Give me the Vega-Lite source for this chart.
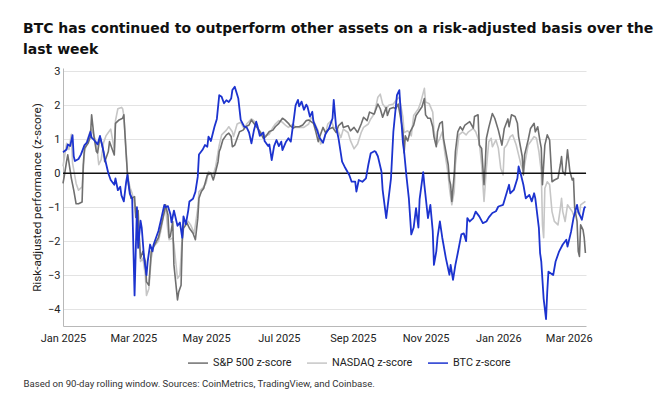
{
  "$schema": "https://vega.github.io/schema/vega-lite/v6.json",
  "width": 523,
  "height": 258,
  "autosize": {"type": "none"},
  "padding": {"left": 63, "top": 68, "right": 84, "bottom": 73},
  "background": "white",
  "title": {
    "text": ["BTC has continued to outperform other assets on a risk-adjusted basis over the", "last week"],
    "anchor": "start", "frame": "group", "dx": -40, "offset": 8,
    "font": "DejaVu Sans", "fontSize": 14, "fontWeight": "bold", "color": "#111111", "lineHeight": 21
  },
  "config": {
    "view": {"stroke": null},
    "font": "Roboto",
    "axisX": {
      "format": "%b %Y", "tickCount": {"interval": "month", "step": 2},
      "labelFlush": false, "labelOverlap": false, "ticks": false, "grid": false,
      "domainColor": "#b8b8b8", "domainWidth": 1, "labelPadding": 6, "labelFontSize": 11, "labelColor": "#222222",
      "titleAnchor": "start", "titleAlign": "left", "titleX": -40, "titleY": 60, "titleBaseline": "alphabetic",
      "titleFontSize": 9.6, "titleFontWeight": "normal", "titleColor": "#333333"
    },
    "axisY": {
      "values": [-4, -3, -2, -1, 0, 1, 2, 3],
      "ticks": false, "grid": true, "gridColor": "#e3e3e3", "gridWidth": 1,
      "domainColor": "#b8b8b8", "domainWidth": 1, "labelPadding": 3, "labelFontSize": 11, "labelColor": "#222222",
      "titleFontSize": 11.7, "titleFontWeight": "normal", "titleColor": "#222222", "titlePadding": 5
    },
    "legend": {
      "orient": "none", "legendX": 124, "legendY": 284, "direction": "horizontal",
      "symbolType": "stroke", "symbolSize": 400, "symbolStrokeWidth": 1.5,
      "labelFontSize": 10.8, "labelColor": "#222222", "columnPadding": 12, "labelOffset": 4
    }
  },
  "encoding": {
    "x": {
      "field": "d", "type": "temporal",
      "scale": {"domain": [{"year": 2025, "month": 1, "date": 1}, {"year": 2026, "month": 3, "date": 15, "hours": 12}]},
      "axis": {"title": "Based on 90-day rolling window. Sources: CoinMetrics, TradingView, and Coinbase."}
    },
    "y": {
      "field": "v", "type": "quantitative",
      "scale": {"domain": [-4.5, 3.1], "nice": false, "zero": false},
      "axis": {"title": "Risk-adjusted performance (z-score)"}
    }
  },
  "datasets": {
    "btc": [
      {"d":"2025-01-01","v":0.62},{"d":"2025-01-04","v":0.70},{"d":"2025-01-05","v":0.85},{"d":"2025-01-07","v":0.80},{"d":"2025-01-09","v":1.12},{"d":"2025-01-10","v":0.50},{"d":"2025-01-11","v":0.36},{"d":"2025-01-14","v":0.42},{"d":"2025-01-16","v":0.55},{"d":"2025-01-19","v":0.83},{"d":"2025-01-21","v":0.90},{"d":"2025-01-24","v":1.22},{"d":"2025-01-25","v":1.05},{"d":"2025-01-27","v":0.98},{"d":"2025-01-30","v":0.85},
      {"d":"2025-02-01","v":1.10},{"d":"2025-02-03","v":0.80},{"d":"2025-02-05","v":0.45},{"d":"2025-02-08","v":0.00},{"d":"2025-02-10","v":-0.20},{"d":"2025-02-13","v":-0.34},{"d":"2025-02-14","v":-0.15},{"d":"2025-02-16","v":-0.50},{"d":"2025-02-18","v":-0.40},{"d":"2025-02-19","v":-0.65},{"d":"2025-02-21","v":-0.83},{"d":"2025-02-23","v":-0.25},{"d":"2025-02-24","v":-0.05},{"d":"2025-02-26","v":-0.60},{"d":"2025-02-28","v":-0.75},
      {"d":"2025-03-02","v":-3.60},{"d":"2025-03-04","v":-1.00},{"d":"2025-03-05","v":-2.20},{"d":"2025-03-07","v":-1.40},{"d":"2025-03-08","v":-1.60},{"d":"2025-03-10","v":-2.50},{"d":"2025-03-12","v":-3.00},{"d":"2025-03-13","v":-2.60},{"d":"2025-03-15","v":-2.10},{"d":"2025-03-17","v":-2.30},{"d":"2025-03-18","v":-2.10},{"d":"2025-03-20","v":-1.90},{"d":"2025-03-22","v":-1.70},{"d":"2025-03-24","v":-1.40},{"d":"2025-03-27","v":-0.93},{"d":"2025-03-28","v":-1.00},{"d":"2025-03-30","v":-0.97},
      {"d":"2025-04-01","v":-1.20},{"d":"2025-04-02","v":-1.45},{"d":"2025-04-04","v":-1.10},{"d":"2025-04-06","v":-1.40},{"d":"2025-04-07","v":-1.55},{"d":"2025-04-09","v":-1.45},{"d":"2025-04-11","v":-1.90},{"d":"2025-04-12","v":-1.27},{"d":"2025-04-14","v":-1.50},{"d":"2025-04-16","v":-1.10},{"d":"2025-04-17","v":-0.83},{"d":"2025-04-20","v":-0.75},{"d":"2025-04-22","v":-0.55},{"d":"2025-04-24","v":-0.10},{"d":"2025-04-25","v":0.55},{"d":"2025-04-28","v":0.69},{"d":"2025-04-30","v":0.83},
      {"d":"2025-05-02","v":0.78},{"d":"2025-05-03","v":1.08},{"d":"2025-05-05","v":0.95},{"d":"2025-05-08","v":1.37},{"d":"2025-05-10","v":1.60},{"d":"2025-05-12","v":2.30},{"d":"2025-05-14","v":2.25},{"d":"2025-05-16","v":2.06},{"d":"2025-05-18","v":2.15},{"d":"2025-05-20","v":2.10},{"d":"2025-05-22","v":2.20},{"d":"2025-05-23","v":2.45},{"d":"2025-05-25","v":2.55},{"d":"2025-05-28","v":2.20},{"d":"2025-05-30","v":1.57},
      {"d":"2025-06-02","v":1.37},{"d":"2025-06-04","v":1.35},{"d":"2025-06-06","v":1.20},{"d":"2025-06-08","v":0.88},{"d":"2025-06-10","v":1.25},{"d":"2025-06-12","v":1.52},{"d":"2025-06-13","v":1.40},{"d":"2025-06-15","v":1.10},{"d":"2025-06-18","v":1.20},{"d":"2025-06-19","v":0.95},{"d":"2025-06-22","v":0.80},{"d":"2025-06-23","v":0.85},{"d":"2025-06-25","v":0.39},{"d":"2025-06-27","v":0.80},{"d":"2025-06-29","v":0.98},
      {"d":"2025-07-01","v":0.80},{"d":"2025-07-03","v":0.93},{"d":"2025-07-04","v":0.68},{"d":"2025-07-07","v":0.93},{"d":"2025-07-09","v":1.03},{"d":"2025-07-11","v":0.93},{"d":"2025-07-14","v":1.72},{"d":"2025-07-15","v":2.00},{"d":"2025-07-17","v":2.16},{"d":"2025-07-18","v":1.97},{"d":"2025-07-20","v":2.11},{"d":"2025-07-22","v":1.87},{"d":"2025-07-24","v":2.02},{"d":"2025-07-25","v":1.96},{"d":"2025-07-27","v":1.67},{"d":"2025-07-29","v":1.81},{"d":"2025-07-30","v":1.52},
      {"d":"2025-08-02","v":1.27},{"d":"2025-08-04","v":1.05},{"d":"2025-08-07","v":0.90},{"d":"2025-08-09","v":1.15},{"d":"2025-08-12","v":1.32},{"d":"2025-08-15","v":1.62},{"d":"2025-08-16","v":2.16},{"d":"2025-08-18","v":1.35},{"d":"2025-08-20","v":1.03},{"d":"2025-08-23","v":0.34},{"d":"2025-08-25","v":0.20},{"d":"2025-08-29","v":-0.05},{"d":"2025-08-31","v":-0.25},
      {"d":"2025-09-03","v":-0.25},{"d":"2025-09-04","v":-0.54},{"d":"2025-09-06","v":-0.20},{"d":"2025-09-09","v":-0.25},{"d":"2025-09-12","v":-0.15},{"d":"2025-09-14","v":0.25},{"d":"2025-09-16","v":0.59},{"d":"2025-09-19","v":0.65},{"d":"2025-09-20","v":0.64},{"d":"2025-09-22","v":0.50},{"d":"2025-09-25","v":0.05},{"d":"2025-09-26","v":-0.49},{"d":"2025-09-29","v":-1.32},
      {"d":"2025-10-01","v":-0.74},{"d":"2025-10-03","v":-0.15},{"d":"2025-10-05","v":1.23},{"d":"2025-10-08","v":2.30},{"d":"2025-10-10","v":2.45},{"d":"2025-10-11","v":1.90},{"d":"2025-10-13","v":0.90},{"d":"2025-10-14","v":0.64},{"d":"2025-10-16","v":-0.10},{"d":"2025-10-18","v":-0.75},{"d":"2025-10-20","v":-1.80},{"d":"2025-10-22","v":-1.60},{"d":"2025-10-24","v":-1.03},{"d":"2025-10-26","v":-1.60},{"d":"2025-10-27","v":-0.76},{"d":"2025-10-30","v":0.03},{"d":"2025-10-31","v":-0.35},
      {"d":"2025-11-03","v":-1.32},{"d":"2025-11-05","v":-0.93},{"d":"2025-11-07","v":-1.70},{"d":"2025-11-08","v":-2.70},{"d":"2025-11-10","v":-2.30},{"d":"2025-11-11","v":-1.90},{"d":"2025-11-13","v":-1.42},{"d":"2025-11-15","v":-1.90},{"d":"2025-11-18","v":-2.50},{"d":"2025-11-21","v":-2.99},{"d":"2025-11-22","v":-2.70},{"d":"2025-11-24","v":-3.14},{"d":"2025-11-26","v":-2.70},{"d":"2025-11-28","v":-2.35},
      {"d":"2025-12-01","v":-1.80},{"d":"2025-12-03","v":-1.77},{"d":"2025-12-05","v":-2.00},{"d":"2025-12-06","v":-1.32},{"d":"2025-12-08","v":-1.42},{"d":"2025-12-11","v":-1.32},{"d":"2025-12-13","v":-1.13},{"d":"2025-12-16","v":-1.27},{"d":"2025-12-19","v":-1.47},{"d":"2025-12-22","v":-1.42},{"d":"2025-12-24","v":-1.30},{"d":"2025-12-27","v":-1.17},{"d":"2025-12-30","v":-1.12},
      {"d":"2026-01-01","v":-0.98},{"d":"2026-01-05","v":-0.93},{"d":"2026-01-07","v":-0.69},{"d":"2026-01-10","v":-0.34},{"d":"2026-01-11","v":-0.59},{"d":"2026-01-14","v":-0.49},{"d":"2026-01-17","v":-0.15},{"d":"2026-01-18","v":0.20},{"d":"2026-01-20","v":-0.05},{"d":"2026-01-22","v":-0.34},{"d":"2026-01-24","v":-0.74},{"d":"2026-01-27","v":-0.64},{"d":"2026-01-29","v":-0.83},{"d":"2026-01-31","v":-0.59},
      {"d":"2026-02-01","v":-0.74},{"d":"2026-02-04","v":-1.62},{"d":"2026-02-05","v":-2.35},{"d":"2026-02-06","v":-2.60},{"d":"2026-02-08","v":-3.70},{"d":"2026-02-10","v":-4.30},{"d":"2026-02-11","v":-3.50},{"d":"2026-02-12","v":-2.90},{"d":"2026-02-16","v":-3.00},{"d":"2026-02-18","v":-2.60},{"d":"2026-02-21","v":-2.30},{"d":"2026-02-24","v":-2.10},{"d":"2026-02-27","v":-1.96},{"d":"2026-02-28","v":-2.16},
      {"d":"2026-03-03","v":-1.72},{"d":"2026-03-05","v":-1.32},{"d":"2026-03-08","v":-0.93},{"d":"2026-03-09","v":-1.13},{"d":"2026-03-12","v":-1.37},{"d":"2026-03-14","v":-1.03},{"d":"2026-03-15","v":-0.98}
    ],
    "spx": [
      {"d":"2025-01-01","v":-0.30},{"d":"2025-01-02","v":-0.10},{"d":"2025-01-04","v":0.35},{"d":"2025-01-05","v":0.54},{"d":"2025-01-08","v":-0.15},{"d":"2025-01-10","v":-0.50},{"d":"2025-01-12","v":-0.90},{"d":"2025-01-14","v":-0.90},{"d":"2025-01-17","v":-0.85},{"d":"2025-01-18","v":0.25},{"d":"2025-01-19","v":0.73},{"d":"2025-01-22","v":0.88},{"d":"2025-01-24","v":1.08},{"d":"2025-01-25","v":1.72},{"d":"2025-01-27","v":1.08},{"d":"2025-01-29","v":0.64},{"d":"2025-01-30","v":0.60},
      {"d":"2025-02-01","v":1.08},{"d":"2025-02-04","v":0.64},{"d":"2025-02-05","v":0.34},{"d":"2025-02-08","v":0.64},{"d":"2025-02-09","v":0.93},{"d":"2025-02-10","v":0.83},{"d":"2025-02-13","v":0.54},{"d":"2025-02-14","v":1.47},{"d":"2025-02-17","v":1.57},{"d":"2025-02-20","v":1.62},{"d":"2025-02-21","v":1.72},{"d":"2025-02-23","v":0.54},{"d":"2025-02-24","v":0.00},{"d":"2025-02-25","v":-0.34},{"d":"2025-02-27","v":-0.74},
      {"d":"2025-03-02","v":-0.69},{"d":"2025-03-03","v":-1.30},{"d":"2025-03-05","v":-1.10},{"d":"2025-03-06","v":-1.90},{"d":"2025-03-07","v":-2.50},{"d":"2025-03-09","v":-2.30},{"d":"2025-03-11","v":-2.60},{"d":"2025-03-12","v":-3.20},{"d":"2025-03-14","v":-3.30},{"d":"2025-03-16","v":-2.30},{"d":"2025-03-18","v":-2.16},{"d":"2025-03-22","v":-1.90},{"d":"2025-03-24","v":-1.60},{"d":"2025-03-27","v":-1.13},{"d":"2025-03-28","v":-0.93},{"d":"2025-03-30","v":-1.23},{"d":"2025-03-31","v":-1.90},
      {"d":"2025-04-01","v":-1.86},{"d":"2025-04-03","v":-1.42},{"d":"2025-04-04","v":-2.70},{"d":"2025-04-07","v":-3.73},{"d":"2025-04-08","v":-3.50},{"d":"2025-04-10","v":-3.30},{"d":"2025-04-11","v":-2.00},{"d":"2025-04-12","v":-1.62},{"d":"2025-04-15","v":-1.47},{"d":"2025-04-17","v":-1.62},{"d":"2025-04-20","v":-1.77},{"d":"2025-04-22","v":-1.96},{"d":"2025-04-24","v":-1.33},{"d":"2025-04-25","v":-0.74},{"d":"2025-04-27","v":-0.54},{"d":"2025-04-29","v":-0.44},
      {"d":"2025-05-02","v":-0.05},{"d":"2025-05-05","v":0.00},{"d":"2025-05-07","v":-0.20},{"d":"2025-05-09","v":0.05},{"d":"2025-05-11","v":0.34},{"d":"2025-05-12","v":0.64},{"d":"2025-05-13","v":0.73},{"d":"2025-05-15","v":0.98},{"d":"2025-05-18","v":1.13},{"d":"2025-05-20","v":1.18},{"d":"2025-05-22","v":1.08},{"d":"2025-05-23","v":0.78},{"d":"2025-05-25","v":0.83},{"d":"2025-05-29","v":1.22},
      {"d":"2025-06-01","v":1.27},{"d":"2025-06-03","v":1.37},{"d":"2025-06-06","v":1.42},{"d":"2025-06-08","v":1.57},{"d":"2025-06-10","v":1.47},{"d":"2025-06-13","v":1.33},{"d":"2025-06-15","v":1.23},{"d":"2025-06-18","v":1.03},{"d":"2025-06-20","v":1.08},{"d":"2025-06-23","v":1.23},{"d":"2025-06-26","v":1.27},{"d":"2025-06-28","v":1.37},
      {"d":"2025-07-01","v":1.47},{"d":"2025-07-04","v":1.62},{"d":"2025-07-06","v":1.57},{"d":"2025-07-09","v":1.47},{"d":"2025-07-10","v":1.42},{"d":"2025-07-13","v":1.33},{"d":"2025-07-15","v":1.37},{"d":"2025-07-18","v":1.37},{"d":"2025-07-21","v":1.42},{"d":"2025-07-24","v":1.55},{"d":"2025-07-26","v":1.57},{"d":"2025-07-30","v":1.47},
      {"d":"2025-08-01","v":1.22},{"d":"2025-08-03","v":0.93},{"d":"2025-08-04","v":1.05},{"d":"2025-08-07","v":1.35},{"d":"2025-08-09","v":1.20},{"d":"2025-08-12","v":1.30},{"d":"2025-08-15","v":1.35},{"d":"2025-08-18","v":1.20},{"d":"2025-08-20","v":1.40},{"d":"2025-08-23","v":1.50},{"d":"2025-08-24","v":1.35},{"d":"2025-08-28","v":1.40},{"d":"2025-08-30","v":1.25},
      {"d":"2025-09-02","v":1.35},{"d":"2025-09-05","v":1.20},{"d":"2025-09-08","v":1.45},{"d":"2025-09-10","v":1.65},{"d":"2025-09-13","v":1.55},{"d":"2025-09-15","v":1.80},{"d":"2025-09-18","v":1.75},{"d":"2025-09-19","v":1.75},{"d":"2025-09-22","v":2.04},{"d":"2025-09-24","v":1.90},{"d":"2025-09-26","v":1.65},{"d":"2025-09-29","v":1.94},{"d":"2025-09-30","v":1.70},
      {"d":"2025-10-02","v":1.90},{"d":"2025-10-05","v":1.94},{"d":"2025-10-07","v":1.90},{"d":"2025-10-09","v":2.04},{"d":"2025-10-10","v":1.84},{"d":"2025-10-13","v":1.25},{"d":"2025-10-14","v":0.60},{"d":"2025-10-15","v":1.10},{"d":"2025-10-17","v":0.95},{"d":"2025-10-19","v":1.22},{"d":"2025-10-22","v":1.42},{"d":"2025-10-24","v":1.70},{"d":"2025-10-26","v":1.80},{"d":"2025-10-29","v":1.96},{"d":"2025-10-31","v":2.20},
      {"d":"2025-11-01","v":1.72},{"d":"2025-11-03","v":1.62},{"d":"2025-11-05","v":1.62},{"d":"2025-11-07","v":1.37},{"d":"2025-11-08","v":1.08},{"d":"2025-11-10","v":0.78},{"d":"2025-11-11","v":1.22},{"d":"2025-11-13","v":1.47},{"d":"2025-11-15","v":1.52},{"d":"2025-11-16","v":1.03},{"d":"2025-11-18","v":0.64},{"d":"2025-11-20","v":0.25},{"d":"2025-11-21","v":-0.20},{"d":"2025-11-22","v":-0.34},{"d":"2025-11-23","v":-0.83},{"d":"2025-11-25","v":-0.05},{"d":"2025-11-26","v":0.64},{"d":"2025-11-28","v":1.22},{"d":"2025-11-30","v":1.37},
      {"d":"2025-12-02","v":1.27},{"d":"2025-12-04","v":1.42},{"d":"2025-12-06","v":1.47},{"d":"2025-12-08","v":1.52},{"d":"2025-12-11","v":1.33},{"d":"2025-12-12","v":1.67},{"d":"2025-12-15","v":1.72},{"d":"2025-12-16","v":0.83},{"d":"2025-12-18","v":0.73},{"d":"2025-12-20","v":-0.34},{"d":"2025-12-21","v":0.25},{"d":"2025-12-22","v":1.03},{"d":"2025-12-24","v":1.35},{"d":"2025-12-27","v":1.76},{"d":"2025-12-29","v":1.62},
      {"d":"2026-01-01","v":1.27},{"d":"2026-01-04","v":0.83},{"d":"2026-01-06","v":1.32},{"d":"2026-01-09","v":1.60},{"d":"2026-01-10","v":1.37},{"d":"2026-01-12","v":1.72},{"d":"2026-01-15","v":1.67},{"d":"2026-01-17","v":1.47},{"d":"2026-01-18","v":1.08},{"d":"2026-01-21","v":0.50},{"d":"2026-01-22","v":-0.05},{"d":"2026-01-23","v":0.54},{"d":"2026-01-26","v":0.98},{"d":"2026-01-28","v":1.32},{"d":"2026-01-31","v":1.47},
      {"d":"2026-02-01","v":1.22},{"d":"2026-02-03","v":1.37},{"d":"2026-02-05","v":0.93},{"d":"2026-02-06","v":0.74},{"d":"2026-02-07","v":-0.34},{"d":"2026-02-09","v":0.83},{"d":"2026-02-11","v":1.13},{"d":"2026-02-13","v":0.98},{"d":"2026-02-15","v":-0.25},{"d":"2026-02-17","v":-0.20},{"d":"2026-02-20","v":-0.15},{"d":"2026-02-22","v":0.25},{"d":"2026-02-23","v":0.49},{"d":"2026-02-24","v":0.05},{"d":"2026-02-26","v":-0.05},{"d":"2026-02-28","v":0.69},
      {"d":"2026-03-02","v":0.05},{"d":"2026-03-04","v":-0.20},{"d":"2026-03-05","v":-0.15},{"d":"2026-03-06","v":-1.03},{"d":"2026-03-08","v":-1.42},{"d":"2026-03-09","v":-2.30},{"d":"2026-03-10","v":-2.45},{"d":"2026-03-11","v":-1.52},{"d":"2026-03-13","v":-1.67},{"d":"2026-03-14","v":-1.90},{"d":"2026-03-15","v":-2.35}
    ],
    "ndx": [
      {"d":"2025-01-01","v":0.20},{"d":"2025-01-04","v":0.88},{"d":"2025-01-06","v":0.70},{"d":"2025-01-08","v":1.15},{"d":"2025-01-09","v":0.30},{"d":"2025-01-12","v":-0.30},{"d":"2025-01-14","v":-0.50},{"d":"2025-01-17","v":-0.40},{"d":"2025-01-19","v":0.60},{"d":"2025-01-21","v":0.95},{"d":"2025-01-24","v":1.25},{"d":"2025-01-25","v":1.30},{"d":"2025-01-27","v":1.10},{"d":"2025-01-29","v":0.90},{"d":"2025-01-31","v":0.25},
      {"d":"2025-02-02","v":0.40},{"d":"2025-02-04","v":0.90},{"d":"2025-02-06","v":1.10},{"d":"2025-02-08","v":1.20},{"d":"2025-02-10","v":1.30},{"d":"2025-02-13","v":0.70},{"d":"2025-02-14","v":1.55},{"d":"2025-02-16","v":1.90},{"d":"2025-02-19","v":1.94},{"d":"2025-02-20","v":1.90},{"d":"2025-02-21","v":1.70},{"d":"2025-02-23","v":0.60},{"d":"2025-02-24","v":0.00},{"d":"2025-02-26","v":-0.40},{"d":"2025-02-28","v":-0.60},
      {"d":"2025-03-02","v":-0.90},{"d":"2025-03-03","v":-1.20},{"d":"2025-03-05","v":-1.40},{"d":"2025-03-06","v":-2.10},{"d":"2025-03-07","v":-2.60},{"d":"2025-03-09","v":-2.50},{"d":"2025-03-11","v":-3.00},{"d":"2025-03-12","v":-3.60},{"d":"2025-03-14","v":-3.40},{"d":"2025-03-16","v":-2.50},{"d":"2025-03-18","v":-2.16},{"d":"2025-03-22","v":-2.00},{"d":"2025-03-24","v":-1.70},{"d":"2025-03-27","v":-1.13},{"d":"2025-03-28","v":-0.98},{"d":"2025-03-30","v":-1.72},{"d":"2025-03-31","v":-1.96},
      {"d":"2025-04-03","v":-1.91},{"d":"2025-04-04","v":-2.10},{"d":"2025-04-07","v":-3.10},{"d":"2025-04-09","v":-3.00},{"d":"2025-04-11","v":-1.82},{"d":"2025-04-12","v":-1.52},{"d":"2025-04-16","v":-1.42},{"d":"2025-04-18","v":-1.52},{"d":"2025-04-21","v":-1.77},{"d":"2025-04-24","v":-1.03},{"d":"2025-04-25","v":-0.54},{"d":"2025-04-28","v":-0.44},
      {"d":"2025-05-01","v":-0.29},{"d":"2025-05-03","v":0.05},{"d":"2025-05-07","v":-0.05},{"d":"2025-05-09","v":0.20},{"d":"2025-05-12","v":0.83},{"d":"2025-05-14","v":1.13},{"d":"2025-05-18","v":1.27},{"d":"2025-05-20","v":1.37},{"d":"2025-05-23","v":1.22},{"d":"2025-05-24","v":1.08},{"d":"2025-05-27","v":1.45},{"d":"2025-05-30","v":1.50},
      {"d":"2025-06-02","v":1.30},{"d":"2025-06-04","v":1.45},{"d":"2025-06-08","v":1.60},{"d":"2025-06-10","v":1.55},{"d":"2025-06-13","v":1.35},{"d":"2025-06-16","v":1.20},{"d":"2025-06-20","v":1.10},{"d":"2025-06-23","v":1.15},{"d":"2025-06-26","v":1.35},{"d":"2025-06-28","v":1.45},
      {"d":"2025-07-01","v":1.55},{"d":"2025-07-04","v":1.50},{"d":"2025-07-07","v":1.40},{"d":"2025-07-09","v":1.35},{"d":"2025-07-13","v":1.45},{"d":"2025-07-15","v":1.35},{"d":"2025-07-18","v":1.35},{"d":"2025-07-22","v":1.35},{"d":"2025-07-26","v":1.45},{"d":"2025-07-28","v":1.65},{"d":"2025-07-30","v":1.55},
      {"d":"2025-08-03","v":1.25},{"d":"2025-08-05","v":0.86},{"d":"2025-08-08","v":1.00},{"d":"2025-08-11","v":1.45},{"d":"2025-08-14","v":1.55},{"d":"2025-08-16","v":1.35},{"d":"2025-08-19","v":1.30},{"d":"2025-08-22","v":1.05},{"d":"2025-08-24","v":1.30},{"d":"2025-08-28","v":1.20},{"d":"2025-08-30","v":0.96},
      {"d":"2025-09-02","v":0.72},{"d":"2025-09-05","v":0.86},{"d":"2025-09-08","v":1.20},{"d":"2025-09-10","v":1.35},{"d":"2025-09-14","v":1.45},{"d":"2025-09-16","v":1.60},{"d":"2025-09-19","v":1.75},{"d":"2025-09-22","v":2.24},{"d":"2025-09-24","v":2.33},{"d":"2025-09-26","v":2.04},{"d":"2025-09-29","v":1.90},
      {"d":"2025-10-01","v":2.00},{"d":"2025-10-05","v":2.04},{"d":"2025-10-07","v":2.14},{"d":"2025-10-10","v":2.24},{"d":"2025-10-13","v":1.65},{"d":"2025-10-14","v":1.20},{"d":"2025-10-17","v":1.25},{"d":"2025-10-20","v":1.10},{"d":"2025-10-22","v":1.70},{"d":"2025-10-26","v":1.90},{"d":"2025-10-28","v":2.10},{"d":"2025-10-31","v":2.50},
      {"d":"2025-11-01","v":2.10},{"d":"2025-11-04","v":2.05},{"d":"2025-11-07","v":1.80},{"d":"2025-11-08","v":1.27},{"d":"2025-11-10","v":0.83},{"d":"2025-11-13","v":1.03},{"d":"2025-11-15","v":1.22},{"d":"2025-11-17","v":0.64},{"d":"2025-11-20","v":-0.05},{"d":"2025-11-21","v":-0.44},{"d":"2025-11-23","v":-0.93},{"d":"2025-11-25","v":-0.54},{"d":"2025-11-26","v":0.25},{"d":"2025-11-29","v":1.13},
      {"d":"2025-12-02","v":1.22},{"d":"2025-12-05","v":1.13},{"d":"2025-12-07","v":1.22},{"d":"2025-12-11","v":1.32},{"d":"2025-12-13","v":1.22},{"d":"2025-12-16","v":0.93},{"d":"2025-12-18","v":0.25},{"d":"2025-12-20","v":-0.83},{"d":"2025-12-22","v":0.15},{"d":"2025-12-24","v":0.93},{"d":"2025-12-26","v":1.03},{"d":"2025-12-27","v":0.78},{"d":"2025-12-30","v":0.98},
      {"d":"2026-01-01","v":0.74},{"d":"2026-01-03","v":0.15},{"d":"2026-01-05","v":-0.05},{"d":"2026-01-06","v":0.74},{"d":"2026-01-08","v":0.83},{"d":"2026-01-11","v":1.08},{"d":"2026-01-13","v":1.13},{"d":"2026-01-16","v":0.83},{"d":"2026-01-18","v":0.54},{"d":"2026-01-20","v":0.25},{"d":"2026-01-22","v":0.05},{"d":"2026-01-23","v":0.25},{"d":"2026-01-26","v":0.83},{"d":"2026-01-28","v":0.93},{"d":"2026-01-31","v":1.08},
      {"d":"2026-02-02","v":1.03},{"d":"2026-02-04","v":0.64},{"d":"2026-02-06","v":0.05},{"d":"2026-02-07","v":-1.52},{"d":"2026-02-08","v":-1.90},{"d":"2026-02-09","v":-0.44},{"d":"2026-02-11","v":-0.25},{"d":"2026-02-13","v":-0.34},{"d":"2026-02-15","v":-1.13},{"d":"2026-02-17","v":-1.42},{"d":"2026-02-20","v":-1.52},{"d":"2026-02-22","v":-1.03},{"d":"2026-02-23","v":-0.74},{"d":"2026-02-24","v":-1.13},{"d":"2026-02-26","v":-1.42},{"d":"2026-02-28","v":-0.93},
      {"d":"2026-03-02","v":-1.03},{"d":"2026-03-04","v":-1.13},{"d":"2026-03-05","v":-1.23},{"d":"2026-03-08","v":-1.13},{"d":"2026-03-10","v":-1.23},{"d":"2026-03-11","v":-0.93},{"d":"2026-03-13","v":-0.88},{"d":"2026-03-15","v":-0.83}
    ],
    "zero": [
      {"d":"2025-01-01","v":0},{"d":"2026-03-15T12:00:00","v":0}
    ]
  },
  "layer": [
    {
      "data": {"name": "ndx"},
      "mark": {"type": "line", "strokeWidth": 1.6, "strokeJoin": "round"},
      "encoding": {
        "color": {"datum": "NASDAQ z-score", "type": "nominal",
          "scale": {"domain": ["S&P 500 z-score", "NASDAQ z-score", "BTC z-score"], "range": ["#6f6f6f", "#c6c6c6", "#1c33cf"]},
          "legend": {"title": null}}
      }
    },
    {
      "data": {"name": "spx"},
      "mark": {"type": "line", "strokeWidth": 1.6, "strokeJoin": "round"},
      "encoding": {
        "color": {"datum": "S&P 500 z-score", "type": "nominal",
          "scale": {"domain": ["S&P 500 z-score", "NASDAQ z-score", "BTC z-score"], "range": ["#6f6f6f", "#c6c6c6", "#1c33cf"]},
          "legend": {"title": null}}
      }
    },
    {
      "data": {"name": "zero"},
      "mark": {"type": "line", "color": "#111111", "strokeWidth": 1.5}
    },
    {
      "data": {"name": "btc"},
      "mark": {"type": "line", "strokeWidth": 1.8, "strokeJoin": "round"},
      "encoding": {
        "color": {"datum": "BTC z-score", "type": "nominal",
          "scale": {"domain": ["S&P 500 z-score", "NASDAQ z-score", "BTC z-score"], "range": ["#6f6f6f", "#c6c6c6", "#1c33cf"]},
          "legend": {"title": null}}
      }
    }
  ]
}
